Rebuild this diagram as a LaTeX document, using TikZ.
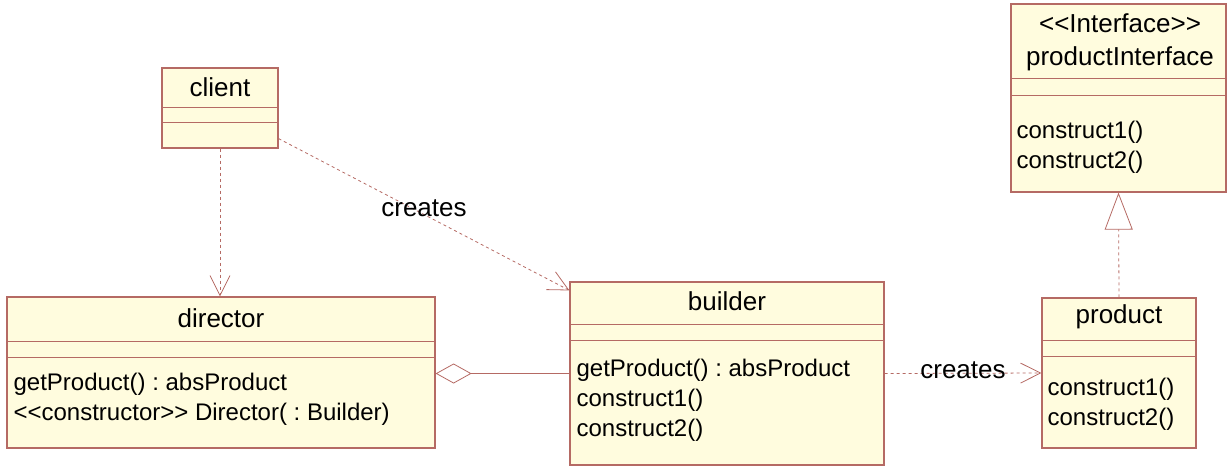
\documentclass[tikz,border=0pt]{standalone}
\usepackage{fontspec}
\setmainfont{Liberation Sans}[Ligatures=TeXOff]
\frenchspacing
\usepackage{tikz}
\usetikzlibrary{
    arrows.meta,
    calc,
    positioning
}
\definecolor{umlline}{RGB}{181,106,100}
\definecolor{umlfill}{RGB}{255,252,222}
\tikzset{
    umlclass/.style={draw=umlline, fill=umlfill, line width=1.2pt, inner sep=0pt},
    umlsep/.style={draw=umlline, line width=0.8pt},
    umltext/.style={inner sep=0pt, font=\fontsize{24}{30}\selectfont},
    umltitle/.style={inner sep=0pt, font=\fontsize{26}{33}\selectfont},
    umlops/.style={umltext, align=left, anchor=north west},
    dep/.style={draw=umlline, line width=0.8pt, dash pattern=on 3pt off 3pt,
        -{Straight Barb[length=20pt, width=20pt, line width=0.8pt]}},
    real/.style={draw=umlline, line width=0.8pt, dash pattern=on 3pt off 3pt,
        -{Triangle[open, length=37pt, width=28pt, line width=0.8pt]}},
    aggr/.style={draw=umlline, line width=0.8pt,
        -{Diamond[open, length=36pt, width=20pt, line width=0.8pt]}}
}

\begin{document}
\begin{tikzpicture}[x=1pt, y=-1pt]
    \useasboundingbox (0, 0) rectangle (1230, 466);
    \node[umlclass, minimum width=116pt, minimum height=80pt] (client) at (220, 108) {};
    \node[umlclass, minimum width=428pt, minimum height=151pt] (director) at (221, 372.5) {};
    \node[umlclass, minimum width=314pt, minimum height=183pt] (builder) at (727, 373.5) {};
    \node[umlclass, minimum width=215pt, minimum height=188pt] (prodif) at (1118.5, 98) {};
    \node[umlclass, minimum width=154pt, minimum height=150pt] (product) at (1119, 373) {};
    \foreach \c/\a/\b in {client/40/55, director/45/61, builder/43/59, prodif/75/92, product/43/59} {
        \draw[umlsep] ($(\c.north west)+(0, \a)$) -- ($(\c.north east)+(0, \a)$);
        \draw[umlsep] ($(\c.north west)+(0, \b)$) -- ($(\c.north east)+(0, \b)$);
    }
    \node[umltitle] (clientname) at ($(client.north)+(0, 20)$) {client};
    \node[umltitle] (directorname) at ($(director.north)+(0, 22)$) {director};
    \node[umltitle] (buildername) at ($(builder.north)+(0, 19.5)$) {builder};
    \node[umltitle] (productname) at ($(product.north)+(0, 19.5)$) {product};
    \node[umltitle, align=center] (prodifname) at ($(prodif.north)+(1.5, 38.5)$) {<<Interface>>\\productInterface};
    \node[umlops] (directorops) at ($(director.north west)+(7, 76.5)$) {getProduct() : absProduct\\<<constructor>> Director( : Builder)};
    \node[umlops] (builderops) at ($(builder.north west)+(7, 77.5)$) {getProduct() : absProduct\\construct1()\\construct2()};
    \node[umlops] (prodifops) at ($(prodif.north west)+(6, 118)$) {construct1()\\construct2()};
    \node[umlops] (productops) at ($(product.north west)+(6, 81)$) {construct1()\\construct2()};
    \draw[dep] (client.south) -- (client.south |- director.north);
    \draw[dep] ($(client.south east)+(0, -10)$) -- node[umltitle, pos=0.5, yshift=6.5pt] (creates1) {creates} ($(builder.north west)+(0, 9)$);
    \draw[aggr] (builder.west) -- (builder.west -| director.east);
    \draw[dep] (builder.east) -- node[umltitle, pos=0.5, yshift=3pt] (creates2) {creates} (product.west);
    \draw[real] (product.north) -- (prodif.south);
\end{tikzpicture}
\end{document}
